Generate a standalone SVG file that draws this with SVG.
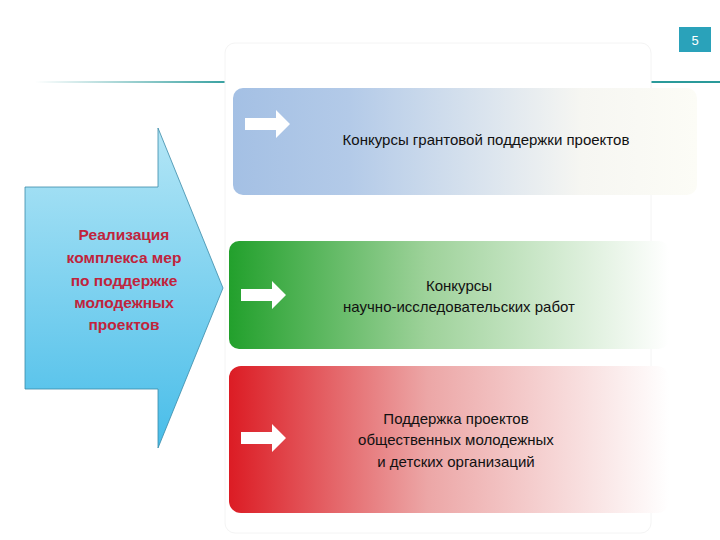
<svg xmlns="http://www.w3.org/2000/svg" width="720" height="540" viewBox="0 0 720 540">
<defs>
<linearGradient id="gl" x1="0" x2="1"><stop offset="0" stop-color="#fff"/><stop offset="0.3" stop-color="#2a9a9a"/><stop offset="1" stop-color="#2a9a9a"/></linearGradient>
<linearGradient id="ga" x1="0" y1="0" x2="0" y2="1"><stop offset="0" stop-color="#b4e6f6"/><stop offset="1" stop-color="#48bde9"/></linearGradient>
<linearGradient id="gb" x1="0" x2="1"><stop offset="0" stop-color="#a4c0e4"/><stop offset="0.25" stop-color="#b3cae8"/><stop offset="0.75" stop-color="#f6f6f2"/><stop offset="1" stop-color="#fcfcf6"/></linearGradient>
<linearGradient id="gg" x1="0" x2="1"><stop offset="0" stop-color="#22a02c"/><stop offset="0.45" stop-color="#9ed29a"/><stop offset="1" stop-color="#fff"/></linearGradient>
<linearGradient id="gr" x1="0" x2="1"><stop offset="0" stop-color="#dc1c24"/><stop offset="0.45" stop-color="#eca6a6"/><stop offset="1" stop-color="#fff"/></linearGradient>
<path id="sa" d="M0 -6 H31 V-14 L45 0 L31 14 V6 H0 Z" fill="#fff"/>
<style>.t{font-family:"Liberation Sans",Arial,sans-serif;font-size:15px;fill:#111;text-anchor:middle}.r{font-family:"Liberation Sans",Arial,sans-serif;font-size:15.5px;font-weight:bold;fill:#c0243c;text-anchor:middle}</style>
</defs>
<rect width="720" height="540" fill="#fff"/>
<rect x="35" y="81" width="685" height="2" fill="url(#gl)"/>
<g id="num"><rect x="679" y="27" width="32" height="25" fill="#2aa2ba"/><text x="695" y="45" font-family="Liberation Sans,sans-serif" font-size="13" fill="#fff" text-anchor="middle">5</text></g>
<rect x="225" y="43" width="426" height="490" rx="10" fill="#fff" stroke="#f4f4f4"/>
<g id="main"><path d="M25 187 H158 V128 L223 288 L158 448 V389 H25 Z" fill="url(#ga)" stroke="#3a8aa8" stroke-width="0.8"/>
<text class="r" x="124" y="240">Реализация</text><text class="r" x="124" y="263">комплекса мер</text><text class="r" x="124" y="286">по поддержке</text><text class="r" x="124" y="308">молодежных</text><text class="r" x="124" y="330">проектов</text></g>
<g id="b1"><rect x="233" y="88" width="464" height="107" rx="10" fill="url(#gb)"/><use href="#sa" x="245" y="124"/><text class="t" x="486" y="145">Конкурсы грантовой поддержки проектов</text></g>
<g id="b2"><rect x="229" y="241" width="440" height="108" rx="10" fill="url(#gg)"/><use href="#sa" x="241" y="295"/><text class="t" x="459" y="291">Конкурсы</text><text class="t" x="459" y="312">научно-исследовательских работ</text></g>
<g id="b3"><rect x="229" y="366" width="440" height="147" rx="12" fill="url(#gr)"/><use href="#sa" x="241" y="438"/><text class="t" x="456" y="424">Поддержка проектов</text><text class="t" x="456" y="445">общественных молодежных</text><text class="t" x="456" y="467">и детских организаций</text></g>
<g id="connectors"/>
</svg>
